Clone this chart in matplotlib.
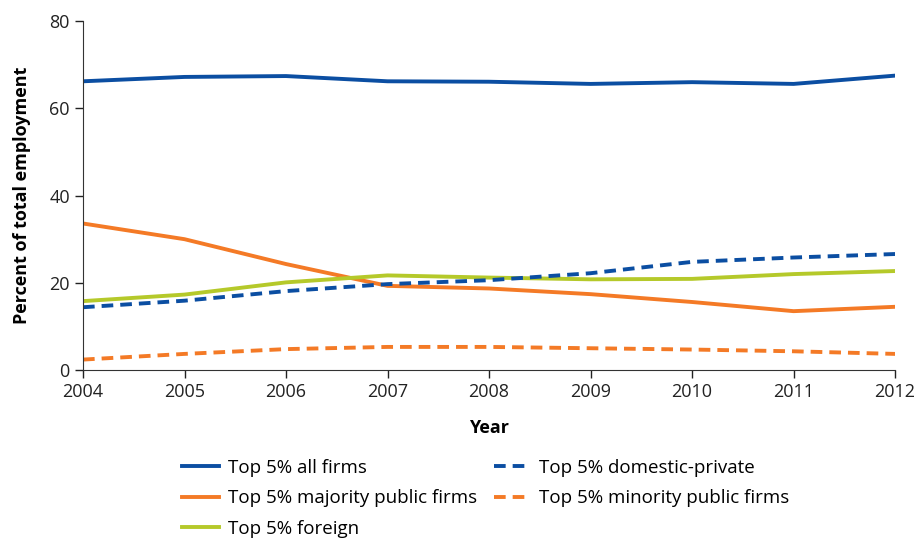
import matplotlib.pyplot as plt

plt.rcParams['font.family'] = ['Open Sans', 'DejaVu Sans']

years = [2004, 2005, 2006, 2007, 2008, 2009, 2010, 2011, 2012]

allFirms = [66.2, 67.2, 67.4, 66.2, 66.1, 65.6, 66.0, 65.6, 67.5]
majorityPublic = [33.6, 30.0, 24.3, 19.3, 18.7, 17.4, 15.6, 13.5, 14.5]
foreign = [15.8, 17.3, 20.1, 21.7, 21.2, 20.8, 20.9, 22.0, 22.7]
domesticPrivate = [14.4, 15.9, 18.1, 19.7, 20.6, 22.2, 24.8, 25.8, 26.6]
minorityPublic = [2.4, 3.7, 4.8, 5.3, 5.3, 5.0, 4.7, 4.3, 3.7]

blue = '#0B4EA2'
orange = '#F47A26'
green = '#B5C92A'

fig = plt.figure(figsize=(9.19, 5.41), dpi=100)
ax = fig.add_axes([0.0903, 0.316, 0.8837, 0.645])

lw = 2.8
dash = (3, 1.8)
l1, = ax.plot(years, allFirms, color=blue, lw=lw, label='Top 5% all firms')
l2, = ax.plot(years, majorityPublic, color=orange, lw=lw, label='Top 5% majority public firms')
l3, = ax.plot(years, foreign, color=green, lw=lw, label='Top 5% foreign')
l4, = ax.plot(years, domesticPrivate, color=blue, lw=lw, dashes=dash, label='Top 5% domestic-private')
l5, = ax.plot(years, minorityPublic, color=orange, lw=lw, dashes=dash, label='Top 5% minority public firms')

ax.set_xlim(2004, 2012)
ax.set_ylim(0, 80)
ax.set_xticks(years)
ax.set_yticks([0, 20, 40, 60, 80])
ax.spines['top'].set_visible(False)
ax.spines['right'].set_visible(False)
ax.spines['left'].set_color('#333333')
ax.spines['bottom'].set_color('#333333')
ax.tick_params(labelsize=13, colors='#222222', length=6, width=1)
ax.set_xlabel('Year', fontsize=13, fontweight='bold', labelpad=13)
ax.set_ylabel('Percent of total employment', fontsize=13, fontweight='bold', labelpad=13)

fig.legend(handles=[l1, l2, l3, l4, l5], ncol=2, loc='upper left',
           bbox_to_anchor=(0.198, 0.152), bbox_transform=fig.transFigure,
           frameon=False, fontsize=13.5, handlelength=2.0, handletextpad=0.43,
           columnspacing=0.9, labelspacing=0.66, borderpad=0, borderaxespad=0)

fig.savefig('out.png', dpi=100)
